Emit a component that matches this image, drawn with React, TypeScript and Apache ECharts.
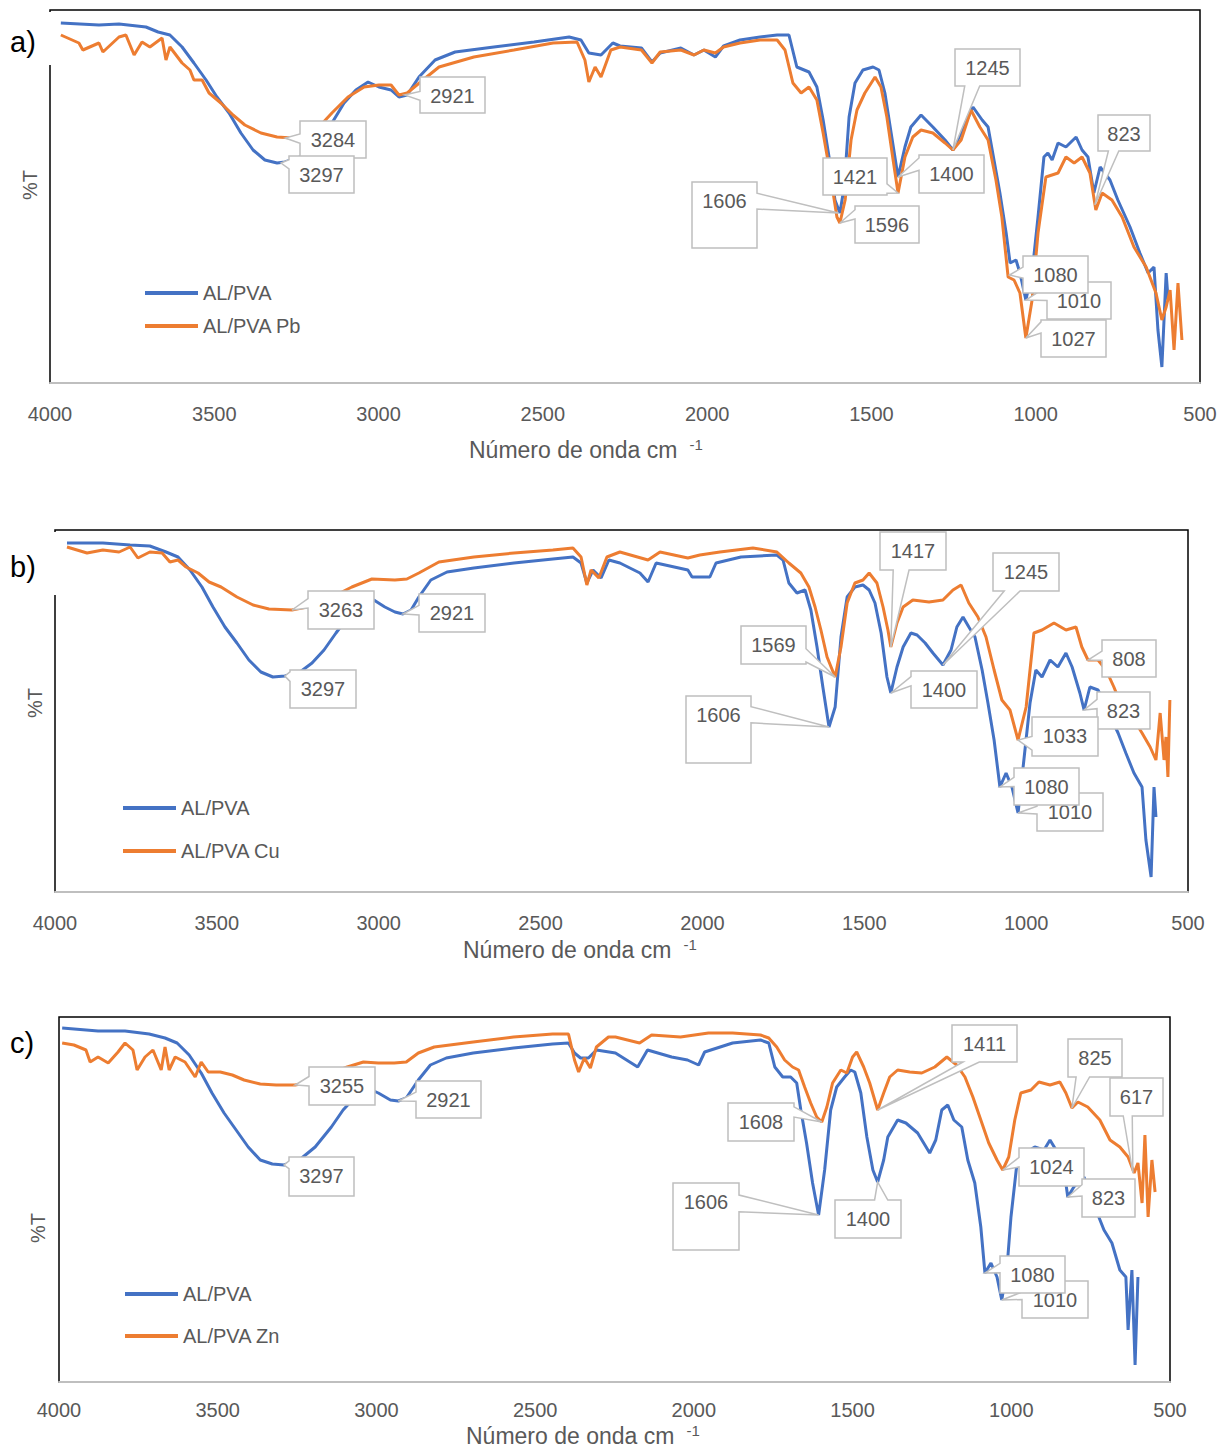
import React, { useEffect, useRef } from "react";
import * as echarts from "echarts";

// ---------------- DATA (wavenumber cm-1, transmittance in arbitrary %T units) ----------------
const xTickStep = 500;
const panelLetters = ["a)", "b)", "c)"];
const namesA = ["AL/PVA", "AL/PVA Pb"];
const namesB = ["AL/PVA", "AL/PVA Cu"];
const namesC = ["AL/PVA", "AL/PVA Zn"];

const aBlue = [[3967,360],[3851,358],[3790,359],[3708,356],[3671,351],[3635,348],[3598,336],[3562,320],[3525,303],[3492,286],[3455,270],[3419,250],[3382,233],[3346,223],[3309,220],[3285,221],[3239,226],[3190,236],[3142,260],[3105,280],[3069,293],[3032,301],[2999,296],[2962,293],[2938,286],[2913,288],[2877,306],[2828,323],[2767,331],[2649,336],[2527,341],[2420,346],[2384,343],[2360,330],[2323,328],[2287,340],[2265,337],[2200,335],[2168,321],[2143,330],[2080,335],[2040,328],[2010,333],[1975,326],[1950,337],[1900,343],[1839,346],[1787,348],[1751,348],[1727,316],[1690,311],[1666,296],[1647,263],[1629,226],[1611,183],[1596,170],[1583,196],[1568,266],[1550,300],[1526,313],[1495,316],[1477,313],[1459,290],[1440,250],[1419,206],[1398,236],[1380,256],[1349,268],[1313,256],[1276,243],[1252,233],[1227,250],[1191,276],[1163,263],[1145,256],[1127,223],[1109,190],[1090,150],[1078,120],[1060,123],[1048,110],[1030,83],[1011,110],[993,166],[975,226],[963,230],[950,223],[932,240],[908,236],[877,246],[859,233],[841,226],[823,190],[804,216],[774,203],[750,183],[713,156],[683,130],[658,110],[640,116],[628,53],[616,16],[603,110],[597,83]];
const aPb = [[3967,348],[3912,340],[3900,333],[3851,340],[3839,331],[3790,346],[3769,348],[3744,328],[3720,341],[3696,336],[3659,345],[3647,323],[3635,336],[3598,320],[3574,313],[3562,303],[3537,303],[3516,290],[3480,280],[3443,268],[3407,258],[3358,250],[3309,246],[3263,245],[3190,253],[3142,270],[3093,286],[3044,296],[2999,298],[2962,298],[2938,288],[2913,290],[2865,303],[2816,316],[2710,326],[2588,333],[2469,340],[2396,341],[2372,323],[2360,301],[2341,316],[2323,306],[2293,333],[2265,336],[2200,333],[2168,320],[2143,331],[2080,333],[2040,328],[2010,333],[1975,330],[1950,336],[1900,340],[1839,343],[1787,343],[1763,333],[1739,300],[1714,290],[1690,296],[1666,283],[1647,250],[1629,216],[1605,166],[1596,160],[1580,183],[1562,243],[1544,273],[1520,290],[1489,306],[1471,296],[1453,266],[1434,223],[1419,190],[1398,226],[1374,246],[1349,253],[1313,250],[1276,240],[1252,233],[1227,243],[1197,273],[1170,256],[1145,243],[1121,203],[1103,166],[1084,106],[1066,103],[1048,90],[1030,45],[1011,83],[993,150],[969,206],[932,210],[908,226],[883,220],[859,226],[835,210],[817,173],[798,190],[768,183],[737,166],[701,136],[664,116],[634,90],[616,63],[603,76],[591,93],[579,33],[567,100],[555,43]];

const bBlue = [[3963,349],[3852,349],[3768,347],[3707,346],[3657,340],[3620,335],[3583,322],[3546,305],[3512,285],[3475,265],[3438,249],[3401,232],[3364,220],[3327,215],[3290,216],[3243,220],[3206,229],[3169,242],[3132,259],[3095,275],[3058,289],[3015,292],[2981,285],[2950,280],[2925,278],[2900,282],[2876,295],[2839,312],[2789,320],[2706,324],[2582,329],[2462,333],[2400,335],[2375,329],[2357,309],[2338,322],[2313,314],[2289,332],[2255,329],[2193,319],[2168,310],[2143,329],[2045,322],[2032,315],[1977,315],[1958,329],[1881,335],[1770,337],[1751,332],[1733,309],[1708,299],[1683,302],[1665,282],[1646,245],[1628,205],[1609,165],[1590,185],[1572,255],[1553,295],[1529,305],[1504,307],[1485,302],[1467,289],[1448,259],[1430,215],[1418,199],[1399,225],[1380,245],[1356,259],[1337,257],[1312,249],[1288,239],[1257,227],[1232,242],[1214,265],[1195,275],[1177,265],[1158,255],[1136,222],[1118,189],[1099,152],[1081,105],[1062,119],[1044,105],[1025,79],[1007,132],[988,189],[970,222],[951,215],[926,232],[902,225],[877,239],[858,225],[834,199],[821,182],[803,205],[778,202],[753,185],[716,159],[692,139],[667,119],[642,105],[630,52],[614,15],[605,105],[599,75]];
const bCu = [[3963,345],[3901,339],[3852,342],[3802,340],[3768,345],[3744,334],[3707,340],[3669,339],[3645,330],[3620,332],[3595,325],[3558,319],[3524,310],[3487,305],[3438,295],[3388,287],[3339,283],[3268,282],[3206,286],[3144,295],[3083,305],[3021,313],[2950,312],[2913,313],[2876,319],[2814,330],[2706,335],[2582,339],[2462,342],[2400,344],[2375,335],[2357,307],[2344,322],[2320,314],[2295,335],[2255,340],[2168,332],[2131,340],[2045,334],[2008,337],[1946,340],[1844,344],[1770,340],[1733,329],[1696,319],[1671,305],[1652,285],[1634,262],[1615,235],[1590,215],[1572,245],[1553,289],[1529,309],[1504,312],[1485,319],[1461,309],[1442,285],[1427,262],[1418,245],[1399,269],[1380,285],[1350,292],[1300,290],[1257,292],[1226,302],[1201,307],[1177,289],[1149,275],[1124,255],[1099,222],[1075,192],[1050,182],[1025,152],[1000,185],[976,259],[951,262],[914,269],[877,262],[846,265],[828,245],[809,232],[778,232],[753,222],[729,205],[704,185],[667,172],[642,159],[617,145],[599,132],[586,179],[574,132],[568,155],[562,115],[556,192]];

const cBlue = [[3990,354],[3877,351],[3792,351],[3716,348],[3666,344],[3628,339],[3590,327],[3552,309],[3518,289],[3480,269],[3442,252],[3404,235],[3366,222],[3328,218],[3291,217],[3243,222],[3193,235],[3142,255],[3105,272],[3067,285],[3029,294],[2994,289],[2956,282],[2931,281],[2906,284],[2868,302],[2830,317],[2780,324],[2695,329],[2568,334],[2445,338],[2395,339],[2376,329],[2357,324],[2332,324],[2307,332],[2247,329],[2177,315],[2146,332],[2070,325],[2020,322],[1985,317],[1966,330],[1878,339],[1790,342],[1764,339],[1745,315],[1720,305],[1695,305],[1676,299],[1663,272],[1645,239],[1626,199],[1607,167],[1588,212],[1569,272],[1550,295],[1525,305],[1506,312],[1493,310],[1474,289],[1455,245],[1436,212],[1421,200],[1402,222],[1389,245],[1358,262],[1332,259],[1295,249],[1276,239],[1257,229],[1238,242],[1219,272],[1200,277],[1181,262],[1156,255],[1137,222],[1115,199],[1096,155],[1083,109],[1064,119],[1045,105],[1030,82],[1014,112],[1001,165],[982,219],[957,229],[926,235],[897,232],[878,242],[859,232],[834,212],[822,185],[803,195],[771,205],[733,172],[708,152],[683,139],[658,112],[639,105],[632,52],[620,112],[610,17],[601,105]];
const cZn = [[3990,339],[3953,337],[3915,332],[3902,320],[3877,325],[3845,319],[3814,330],[3792,339],[3767,332],[3754,312],[3729,325],[3704,332],[3678,312],[3666,335],[3653,312],[3634,325],[3603,320],[3571,305],[3552,320],[3530,310],[3492,310],[3454,307],[3417,302],[3366,298],[3316,297],[3256,297],[3205,300],[3142,309],[3092,315],[3041,320],[2994,319],[2944,319],[2906,320],[2868,329],[2818,335],[2695,340],[2568,345],[2445,348],[2395,348],[2376,322],[2363,310],[2345,324],[2326,314],[2307,335],[2269,345],[2247,345],[2171,339],[2133,347],[2042,345],[1954,349],[1878,349],[1790,347],[1764,344],[1739,335],[1714,322],[1689,315],[1670,312],[1651,295],[1632,279],[1613,265],[1597,260],[1581,275],[1563,299],[1537,312],[1518,309],[1500,325],[1487,330],[1465,315],[1446,299],[1421,272],[1402,289],[1383,305],[1358,312],[1320,310],[1282,309],[1241,315],[1203,325],[1172,317],[1146,305],[1121,285],[1096,262],[1071,239],[1045,222],[1027,212],[1008,225],[989,262],[970,289],[938,292],[913,300],[878,297],[847,300],[828,289],[809,274],[790,280],[759,275],[721,262],[689,242],[658,235],[632,225],[613,209],[601,219],[588,179],[579,247],[569,165],[557,222],[547,190]];

// Peak annotations: label text and the [wavenumber, %T] point it points at
const labelsA = ["3284","3297","2921","1245","823","1421","1400","1606","1596","1010","1027","1080"];
const anchorsA = [[3284,245],[3297,220],[2921,288],[1252,233],[820,178],[1419,190],[1419,206],[1600,170],[1596,160],[1030,83],[1030,45],[1080,108]];
const labelsB = ["3263","3297","2921","1417","1245","1569","1400","1606","808","823","1033","1010","1080"];
const anchorsB = [[3268,282],[3290,216],[2925,278],[1418,245],[1257,227],[1590,215],[1418,199],[1609,165],[809,232],[821,182],[1025,152],[1025,79],[1081,105]];
const labelsC = ["3255","3297","2921","1411","825","617","1608","1606","1400","1024","823","1010","1080"];
const anchorsC = [[3256,297],[3291,217],[2931,281],[1421,272],[809,274],[617,209],[1597,260],[1607,167],[1421,200],[1027,212],[822,185],[1030,82],[1083,109]];

// ---------------- LAYOUT ----------------
const FONT = "'Liberation Sans', Arial, sans-serif";
const GRAY = "#595959";
const BLUE = "#4472C4";
const ORANGE = "#ED7D31";
const BOXLINE = "#bfbfbf";

const grids = [
  { left: 50, top: 10, width: 1150, height: 373 },
  { left: 55, top: 530, width: 1133, height: 362 },
  { left: 59, top: 1017, width: 1111, height: 365 },
];
const yMax = [373, 362, 365];
const labelMargins = [21, 21, 18];
const legendPos = [
  { left: 145, top: 282, gap: 11 },
  { left: 123, top: 797, gap: 21 },
  { left: 125, top: 1283, gap: 20 },
];
// callout boxes: x, y, w, h, side of the pointer, pointer start/end along that side
const boxesA: any[] = [
  [300,121,66,37,"left",0.35,0.6],[289,156,65,37,"left",0.1,0.35],[420,77,65,36,"left",0.4,0.65],
  [955,49,65,37,"bottom",0.15,0.38],[1098,115,52,36,"bottom",0.2,0.4],[823,158,64,37,"right",0.7,0.95],
  [919,155,65,38,"left",0.08,0.4],[692,182,65,66,"right",0.17,0.41],[855,206,64,37,"left",0.1,0.35],
  [1047,282,64,37,"left",0.12,0.5],[1041,320,65,37,"left",0.05,0.35],[1023,256,65,37,"left",0.3,0.6],
];
const boxesB: any[] = [
  [308,591,66,38,"left",0.2,0.45],[290,670,66,38,"left",0.05,0.3],[419,594,66,38,"left",0.3,0.55],
  [880,532,66,38,"bottom",0.2,0.44],[993,553,66,38,"bottom",0.17,0.41],[741,626,65,38,"right",0.6,0.95],
  [911,671,66,37,"left",0.15,0.4],[686,696,65,67,"right",0.16,0.4],[1102,640,54,37,"left",0.3,0.55],
  [1097,692,53,37,"left",0.2,0.45],[1032,717,66,39,"left",0.5,0.85],[1037,793,66,38,"left",0.35,0.55],
  [1014,768,65,37,"left",0.25,0.5],
];
const boxesC: any[] = [
  [309,1067,66,38,"left",0.25,0.5],[289,1157,65,39,"left",0.1,0.3],[416,1081,65,37,"left",0.3,0.55],
  [952,1025,65,37,"bottom",0.17,0.42],[1068,1039,54,38,"bottom",0.15,0.4],[1110,1078,53,38,"bottom",0.25,0.42],
  [728,1103,66,38,"right",0.1,0.37],[673,1183,66,67,"right",0.18,0.43],[835,1200,66,38,"top",0.6,0.8],
  [1019,1148,65,38,"left",0.25,0.5],[1082,1179,53,38,"left",0.15,0.45],[1022,1281,66,37,"left",0.3,0.5],
  [1000,1256,65,37,"left",0.2,0.45],
];
const letterPos = [
  { y: 42, coverTop: 12, coverBottom: 65, coverRight: 53 },
  { y: 567, coverTop: 532, coverBottom: 595, coverRight: 58 },
  { y: 1043, coverTop: 0, coverBottom: 0, coverRight: 0 },
];
const titlePos = [
  { x: 469, y: 450 },
  { x: 463, y: 950 },
  { x: 466, y: 1436 },
];
const yNamePos = [
  { x: 30, y: 185 },
  { x: 35, y: 703 },
  { x: 38, y: 1228 },
];

function calloutPoints(x: number, y: number, w: number, h: number, side: string, t1: number, t2: number, ax: number, ay: number) {
  const p: number[][] = [];
  p.push([x, y]);
  if (side === "top") p.push([x + t1 * w, y], [ax, ay], [x + t2 * w, y]);
  p.push([x + w, y]);
  if (side === "right") p.push([x + w, y + t1 * h], [ax, ay], [x + w, y + t2 * h]);
  p.push([x + w, y + h]);
  if (side === "bottom") p.push([x + t2 * w, y + h], [ax, ay], [x + t1 * w, y + h]);
  p.push([x, y + h]);
  if (side === "left") p.push([x, y + t2 * h], [ax, ay], [x, y + t1 * h]);
  return p;
}

export default function App() {
  const ref = useRef<HTMLDivElement>(null);
  useEffect(() => {
    document.body.style.margin = "0";
    const chart = echarts.init(ref.current!, null, { renderer: "svg" });
    const panels = [
      { names: namesA, data: [aBlue, aPb] },
      { names: namesB, data: [bBlue, bCu] },
      { names: namesC, data: [cBlue, cZn] },
    ];
    const series: any[] = [];
    panels.forEach((p, i) => {
      p.data.forEach((d, j) => {
        series.push({
          type: "line",
          name: p.names[j],
          xAxisIndex: i,
          yAxisIndex: i,
          data: d,
          showSymbol: false,
          symbol: "none",
          color: j === 0 ? BLUE : ORANGE,
          lineStyle: { width: 3, color: j === 0 ? BLUE : ORANGE },
          z: 2 + j,
        });
      });
    });
    chart.setOption({
      animation: false,
      backgroundColor: "#ffffff",
      grid: grids.map((g) => ({ ...g, show: true, borderColor: "#000", borderWidth: 1.5, backgroundColor: "transparent" })),
      xAxis: grids.map((_, i) => ({
        type: "value",
        gridIndex: i,
        min: 500,
        max: 4000,
        interval: xTickStep,
        inverse: true,
        axisLine: { show: true, lineStyle: { color: "#bfbfbf", width: 2 } },
        axisTick: { show: false },
        splitLine: { show: false },
        axisLabel: {
          color: GRAY, fontSize: 20, fontFamily: FONT, margin: labelMargins[i],
          showMinLabel: true, showMaxLabel: true,
          formatter: (v: number) => String(v),
        },
      })),
      yAxis: grids.map((_, i) => ({ type: "value", gridIndex: i, min: 0, max: yMax[i], show: false })),
      legend: panels.map((p, i) => ({
        data: p.names,
        orient: "vertical",
        left: legendPos[i].left,
        top: legendPos[i].top,
        padding: 0,
        itemGap: legendPos[i].gap,
        itemWidth: 53,
        itemHeight: 4,
        icon: "rect",
        selectedMode: false,
        textStyle: { color: GRAY, fontSize: 20, fontFamily: FONT, lineHeight: 22 },
      })),
      series,
    });

    const els: any[] = [];
    const canvas = document.createElement("canvas");
    const ctx = canvas.getContext("2d")!;
    ctx.font = "23px 'Liberation Sans'";
    const titleMain = "Número de onda cm";
    const titleW = ctx.measureText(titleMain).width;

    const ann = [
      { labels: labelsA, anchors: anchorsA, boxes: boxesA },
      { labels: labelsB, anchors: anchorsB, boxes: boxesB },
      { labels: labelsC, anchors: anchorsC, boxes: boxesC },
    ];
    ann.forEach((a, i) => {
      if (letterPos[i].coverBottom > 0) {
        els.push({ type: "rect", z: 90, shape: { x: 0, y: letterPos[i].coverTop, width: letterPos[i].coverRight, height: letterPos[i].coverBottom - letterPos[i].coverTop }, style: { fill: "#ffffff" } });
      }
      els.push({ type: "text", z: 91, x: 10, y: letterPos[i].y, style: { text: panelLetters[i], fill: "#000", fontSize: 29, fontFamily: FONT, align: "left", verticalAlign: "middle" } });
      els.push({ type: "text", z: 91, x: titlePos[i].x, y: titlePos[i].y, style: { text: titleMain, fill: GRAY, fontSize: 23, fontFamily: FONT, align: "left", verticalAlign: "middle" } });
      els.push({ type: "text", z: 91, x: titlePos[i].x + titleW + 12, y: titlePos[i].y - 6, style: { text: "-1", fill: GRAY, fontSize: 15, fontFamily: FONT, align: "left", verticalAlign: "middle" } });
      els.push({ type: "text", z: 91, x: yNamePos[i].x, y: yNamePos[i].y, rotation: Math.PI / 2, style: { text: "%T", fill: GRAY, fontSize: 20, fontFamily: FONT, align: "center", verticalAlign: "middle" } });
      a.labels.forEach((lab, k) => {
        const [bx, by, bw, bh, side, t1, t2] = a.boxes[k];
        const px = chart.convertToPixel({ gridIndex: i }, a.anchors[k]) as number[];
        const pts = calloutPoints(bx, by, bw, bh, side, t1, t2, px[0], px[1]);
        els.push({ type: "polygon", z: 100 + k * 2, shape: { points: pts }, style: { fill: "#ffffff", stroke: BOXLINE, lineWidth: 1.5 } });
        els.push({ type: "text", z: 101 + k * 2, x: bx + bw / 2, y: by + 19, style: { text: lab, fill: GRAY, fontSize: 20, fontFamily: FONT, align: "center", verticalAlign: "middle" } });
      });
    });
    chart.setOption({ graphic: els });
    return () => chart.dispose();
  }, []);
  return <div ref={ref} style={{ width: 1231, height: 1449 }} />;
}
